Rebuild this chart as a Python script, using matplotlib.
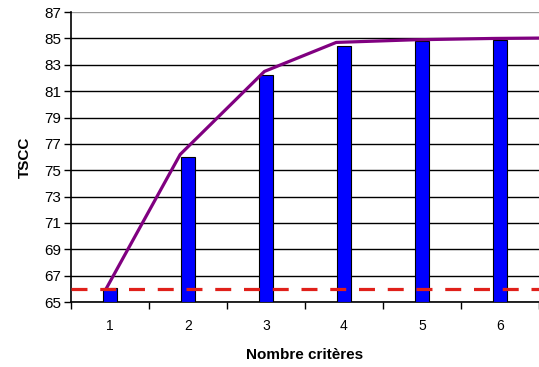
import matplotlib
matplotlib.use("Agg")
import matplotlib.pyplot as plt
import numpy as np

# data
categories = [1, 2, 3, 4, 5, 6]
bar_values = [66.1, 76.0, 82.2, 84.4, 84.8, 84.9]
line_x = [0.95, 1.9, 2.98, 3.9, 4.9, 5.9, 6.9]
line_values = [66.0, 76.2, 82.5, 84.7, 84.9, 85.0, 85.05]
threshold = 66.0
y_ticks = list(range(65, 88, 2))

plt.rcParams["font.family"] = ["Liberation Sans", "DejaVu Sans"]

fig = plt.figure(figsize=(5.39, 3.67), dpi=100)
ax = fig.add_axes([0.1317, 0.177, 0.8683, 0.790])

ax.bar(categories, [v - 65 for v in bar_values], bottom=65, width=0.18,
       color="#0000FF", edgecolor="black", linewidth=0.8, zorder=3)
ax.plot(line_x, line_values, color="#800080", linewidth=2.3, zorder=4,
        solid_capstyle="butt")
ax.axhline(threshold, color="#E0201A", linewidth=2.3, dashes=(5, 4), zorder=5)

ax.set_ylim(65, 87)
ax.set_xlim(0.5, 6.35)
ax.set_yticks(y_ticks)
ax.yaxis.grid(True, color="black", linewidth=1.0, zorder=0)
ax.set_axisbelow(True)
# the top gridline is lighter in the reference
ax.get_ygridlines()[-1].set_color("#999999")

# category labels at centres, tick marks between categories
ax.set_xticks(categories)
ax.set_xticklabels([str(c) for c in categories])
ax.tick_params(axis="x", length=0, pad=12, labelsize=10)
ax.set_xticks(np.arange(0.5, 6.6, 1.0), minor=True)
ax.tick_params(axis="x", which="minor", length=5, width=1.0, direction="out")
ax.tick_params(axis="y", length=5, width=1.0, direction="out", labelsize=11, pad=2)

for s in ("top", "right"):
    ax.spines[s].set_visible(False)
ax.spines["left"].set_linewidth(1.2)
ax.spines["bottom"].set_linewidth(1.2)

ax.set_ylabel("TSCC", fontweight="bold", fontsize=11, labelpad=9)
ax.set_xlabel("Nombre critères", fontweight="bold", fontsize=11, labelpad=11)

fig.savefig("out.png", dpi=100)
